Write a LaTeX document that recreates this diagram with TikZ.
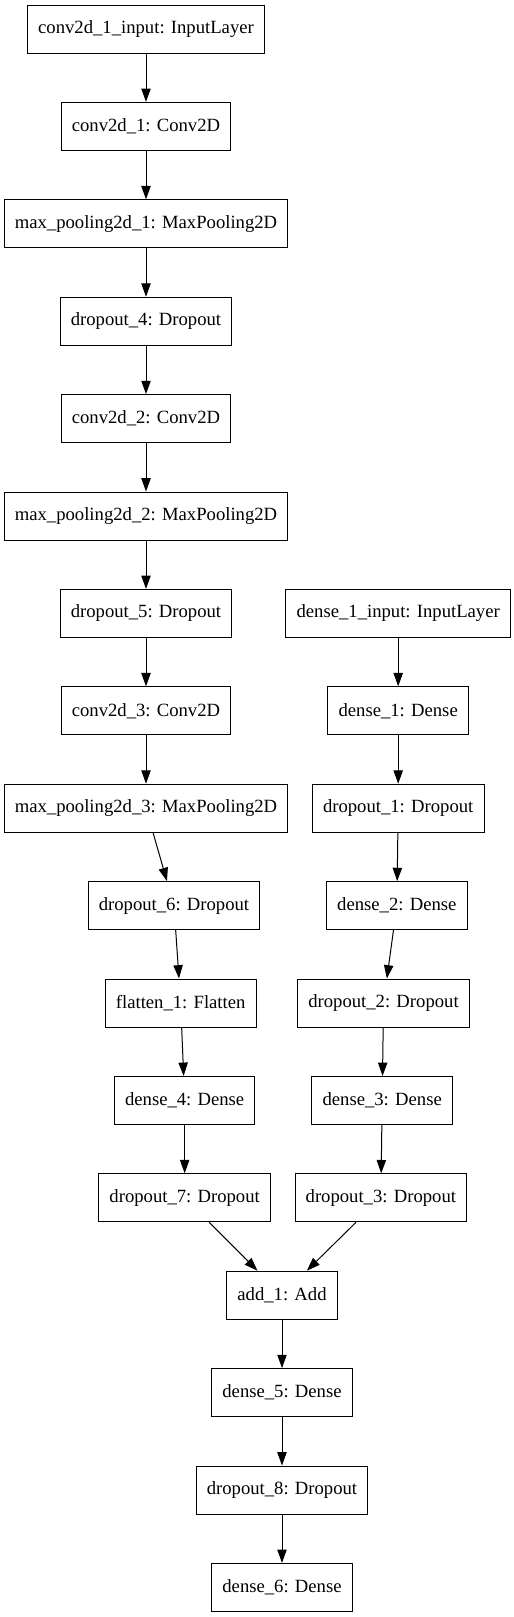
\documentclass[tikz,border=0pt]{standalone}
\usepackage{fontspec}
\setmainfont{Liberation Serif}
\usetikzlibrary{positioning}
\usetikzlibrary{arrows.meta}

\begin{document}
\begin{tikzpicture}[every node/.style = {shape=rectangle, draw, inner xsep=8pt, minimum height=36pt, font=\fontsize{14pt}{16pt}\selectfont},
  node distance=36.3pt, line width=0.75pt, >={Triangle[length=10pt,width=7pt]}]
  \useasboundingbox (0,0) rectangle (385.5pt,-1212.75pt);
  % left branch
  \node (c1in) at (109.5pt,-21.75pt) {conv2d\_1\_input: InputLayer};
  \node (c1) [below=of c1in] {conv2d\_1: Conv2D} edge [<-] (c1in);
  \node (mp1) [below=of c1] {max\_pooling2d\_1: MaxPooling2D} edge [<-] (c1);
  \node (do4) [below=of mp1] {dropout\_4: Dropout} edge [<-] (mp1);
  \node (c2) [below=of do4] {conv2d\_2: Conv2D} edge [<-] (do4);
  \node (mp2) [below=of c2] {max\_pooling2d\_2: MaxPooling2D} edge [<-] (c2);
  \node (do5) [below=of mp2] {dropout\_5: Dropout} edge [<-] (mp2);
  \node (c3) [below=of do5] {conv2d\_3: Conv2D} edge [<-] (do5);
  \node (mp3) [below=of c3] {max\_pooling2d\_3: MaxPooling2D} edge [<-] (c3);
  \node (do6) [below=of mp3, xshift=21pt] {dropout\_6: Dropout} edge [<-] (mp3);
  \node (fl1) [below=of do6, xshift=5pt] {flatten\_1: Flatten} edge [<-] (do6);
  \node (d4) [below=of fl1, xshift=3pt] {dense\_4: Dense} edge [<-] (fl1);
  \node (do7) [below=of d4] {dropout\_7: Dropout} edge [<-] (d4);

  % right branch
  \node (d1in) [right=39.8pt of do5] {dense\_1\_input: InputLayer};
  \node (d1) [below=of d1in] {dense\_1: Dense} edge [<-] (d1in);
  \node (do1) [below=of d1] {dropout\_1: Dropout} edge [<-] (d1);
  \node (d2) [below=of do1, xshift=-1pt] {dense\_2: Dense} edge [<-] (do1);
  \node (do2) [below=of d2, xshift=-10pt] {dropout\_2: Dropout} edge [<-] (d2);
  \node (d3) [below=of do2, xshift=-1pt] {dense\_3: Dense} edge [<-] (do2);
  \node (do3) [below=of d3, xshift=-1pt] {dropout\_3: Dropout} edge [<-] (d3);

  % merge
  \node (add1) [below=of do7, xshift=73pt] {add\_1: Add} edge [<-] (do7) edge [<-] (do3);
  \node (d5) [below=of add1] {dense\_5: Dense} edge [<-] (add1);
  \node (do8) [below=of d5] {dropout\_8: Dropout} edge [<-] (d5);
  \node (d6) [below=of do8] {dense\_6: Dense} edge [<-] (do8);

\end{tikzpicture}
\end{document}
